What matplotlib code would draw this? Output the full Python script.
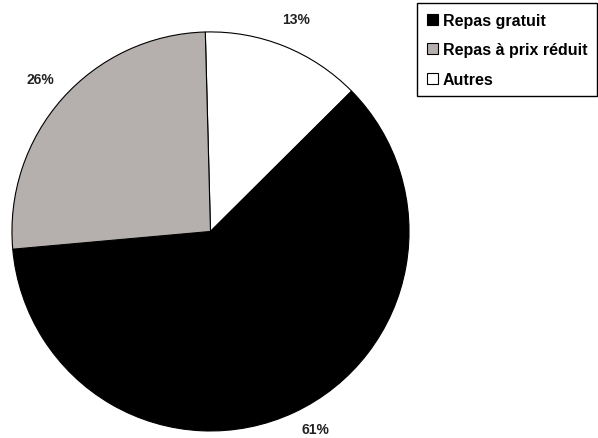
import matplotlib.pyplot as plt
from matplotlib.patches import Patch

#========== DATA ==========#

categories = ["Autres", "Repas gratuit", "Repas à prix réduit"]
values = [13, 61, 26]
colors = ["#ffffff", "#000000", "#b5b0ad"]
legend_order = ["Repas gratuit", "Repas à prix réduit", "Autres"]

#========== PLOT ==========#

plt.rcParams['font.family'] = ['Liberation Sans', 'DejaVu Sans']

fig = plt.figure(figsize=(5.98, 4.39), dpi=100)
ax = fig.add_axes([0.020, 0.016, 0.664, 0.909])

wedges, texts, autotexts = ax.pie(
    values, colors=colors, startangle=91.5, counterclock=False,
    autopct='%d%%', pctdistance=1.15,
    wedgeprops=dict(edgecolor='black', linewidth=0.8),
    textprops=dict(fontsize=10, fontweight='bold', color='#222222'))

# le label du bas est decale a droite pour rester dans l'image
autotexts[1].set_position((0.53, -0.99))

ax.set_aspect('auto')
ax.set_xlim(-1, 1)
ax.set_ylim(-1, 1)

handles = [Patch(facecolor=colors[categories.index(c)], edgecolor='black',
                 linewidth=0.8) for c in legend_order]
leg = fig.legend(handles, legend_order, loc='upper right',
                 bbox_to_anchor=(0.998, 0.99), borderaxespad=0,
                 fancybox=False, frameon=True, edgecolor='black',
                 framealpha=1, handlelength=0.7, handleheight=0.7,
                 handletextpad=0.3, labelspacing=0.9, borderpad=0.6,
                 prop=dict(size=11.5, weight='bold'))
leg.get_frame().set_linewidth(1.0)

fig.savefig("out.png", dpi=100)
